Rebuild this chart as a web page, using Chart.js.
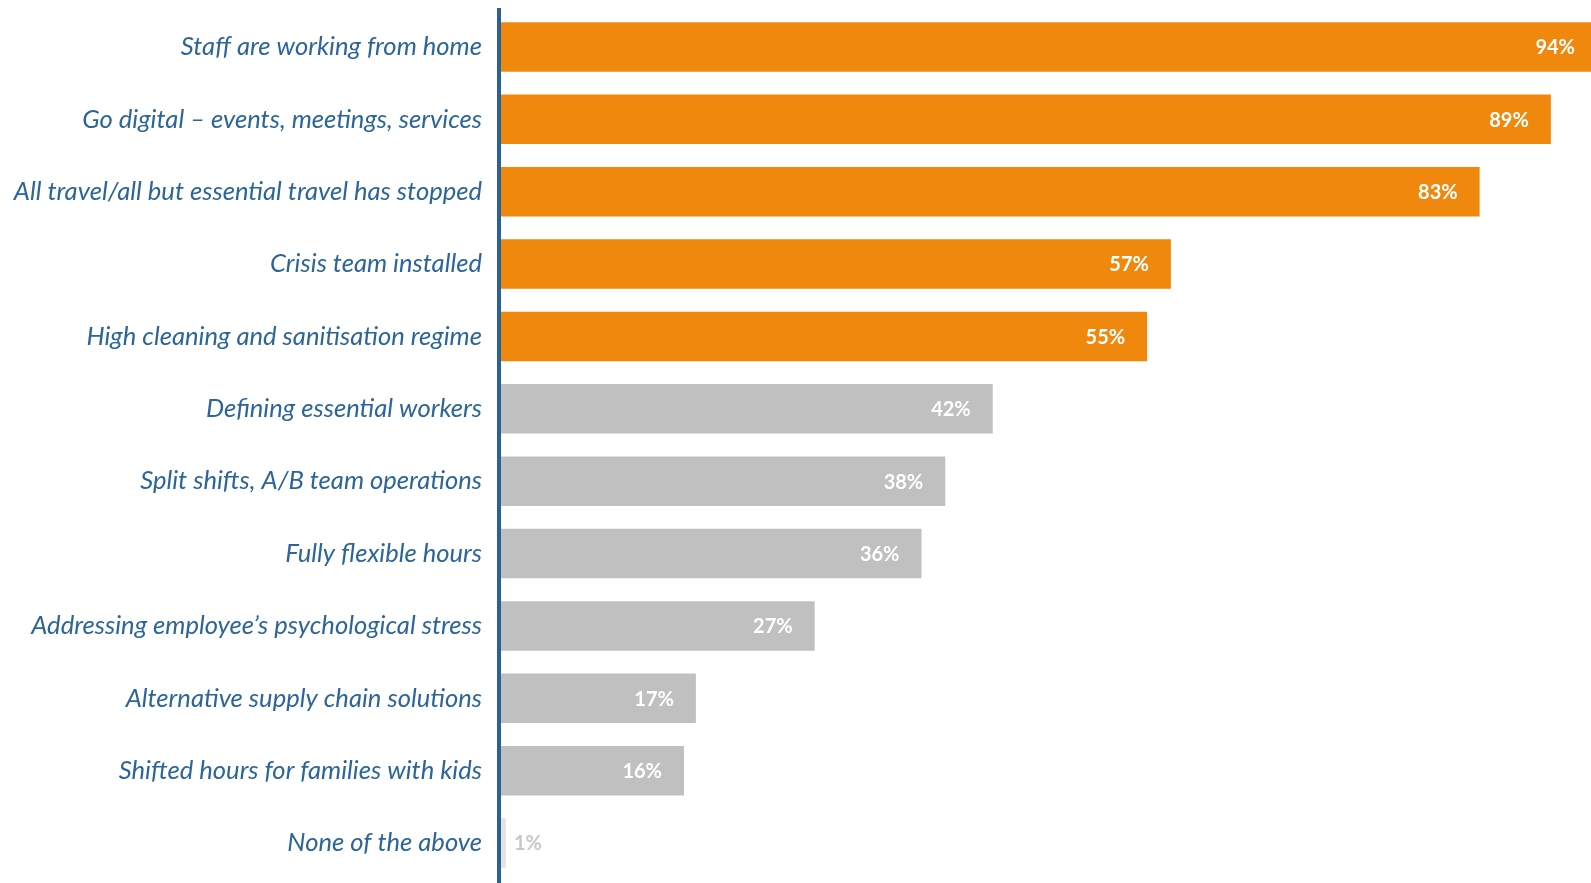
<!DOCTYPE html>
<html>
<head>
<meta charset="utf-8">
<script src="https://cdn.jsdelivr.net/npm/chart.js@4"></script>
<style>
  html, body { margin: 0; padding: 0; background: #ffffff; }
  #wrap { width: 1591px; height: 883px; }
</style>
</head>
<body>
<div id="wrap"><canvas id="c" width="1591" height="883"></canvas></div>
<script>
const categories = [
  "Staff are working from home",
  "Go digital – events, meetings, services",
  "All travel/all but essential travel has stopped",
  "Crisis team installed",
  "High cleaning and sanitisation regime",
  "Defining essential workers",
  "Split shifts, A/B team operations",
  "Fully flexible hours",
  "Addressing employee’s psychological stress",
  "Alternative supply chain solutions",
  "Shifted hours for families with kids",
  "None of the above"
];
const values = [94, 89, 83, 57, 55, 42, 38, 36, 27, 17, 16, 1];
const highlightedCount = 5;

const ORANGE = "#f0880e";
const GRAY = "#c0c0c0";
const LIGHT_GRAY = "#e3e3e3";
const LABEL_BLUE = "#2b6599";
const AXIS_BLUE = "#2a6296";

const barColors = values.map((v, i) => i < highlightedCount ? ORANGE : (v < 5 ? LIGHT_GRAY : GRAY));

const valueLabels = {
  id: "valueLabels",
  afterDatasetsDraw(chart) {
    const ctx = chart.ctx;
    const meta = chart.getDatasetMeta(0);
    ctx.save();
    ctx.font = "bold 20px Lato";
    ctx.textBaseline = "middle";
    meta.data.forEach((bar, i) => {
      const v = values[i];
      const txt = v + "%";
      if (v < 5) {
        ctx.fillStyle = "#c8c8c8";
        ctx.textAlign = "left";
        ctx.fillText(txt, bar.x + 8, bar.y + 1);
      } else {
        ctx.fillStyle = "#ffffff";
        ctx.textAlign = "right";
        const end = Math.min(bar.x, chart.chartArea.right + 6);
        ctx.fillText(txt, end - 22, bar.y + 1);
      }
    });
    const x = chart.chartArea.left;
    ctx.fillStyle = AXIS_BLUE;
    ctx.fillRect(x - 2, 8, 4, chart.height - 8);
    ctx.restore();
  }
};

new Chart(document.getElementById("c"), {
  type: "bar",
  data: {
    labels: categories,
    datasets: [{
      data: values,
      backgroundColor: barColors,
      borderWidth: 0,
      barPercentage: 0.684,
      categoryPercentage: 1.0
    }]
  },
  options: {
    indexAxis: "y",
    responsive: false,
    animation: false,
    devicePixelRatio: 1,
    layout: { padding: { top: 10.7, bottom: 3.8, left: 0, right: 0 } },
    plugins: { legend: { display: false }, tooltip: { enabled: false } },
    scales: {
      x: {
        display: false,
        min: 0.42,
        max: 92.38
      },
      y: {
        grid: { display: false, drawTicks: false },
        border: { display: false },
        ticks: {
          color: LABEL_BLUE,
          font: { family: "Lato", style: "italic", size: 25.6 },
          padding: 17
        },
        afterFit(scale) {
          scale.width = 499;
          scale.paddingTop = 0;
          scale.paddingBottom = 0;
        }
      }
    }
  },
  plugins: [valueLabels]
});
</script>
</body>
</html>
